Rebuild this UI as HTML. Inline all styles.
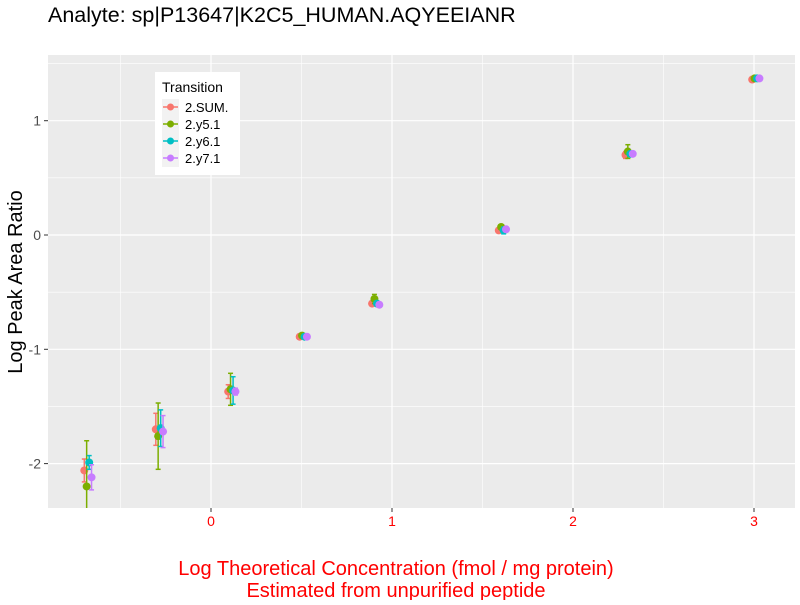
<!DOCTYPE html>
<html><head><meta charset="utf-8"><style>
body{margin:0;background:#fff;}
svg text{font-family:"Liberation Sans",sans-serif;}
</style></head><body>
<svg id="chart" width="800" height="600" xmlns="http://www.w3.org/2000/svg">
<defs><clipPath id="pc"><rect x="48" y="55" width="747" height="453"/></clipPath></defs>
<text x="48" y="22" font-size="21.5" fill="#000">Analyte: sp|P13647|K2C5_HUMAN.AQYEEIANR</text>
<rect x="48" y="55" width="747" height="453" fill="#ebebeb"/>
<g id="grid"></g>
<g id="marks" clip-path="url(#pc)"></g>
<g id="axes"></g>
<text transform="translate(22,282) rotate(-90)" text-anchor="middle" font-size="20" fill="#000">Log Peak Area Ratio</text>
<text x="396" y="575" text-anchor="middle" font-size="20" fill="#ff0000">Log Theoretical Concentration (fmol / mg protein)</text>
<text x="396" y="597" text-anchor="middle" font-size="20" fill="#ff0000">Estimated from unpurified peptide</text>
<g>
<rect x="155" y="72" width="85" height="103" fill="#fff"/>
<text x="162" y="92" font-size="14" fill="#000">Transition</text>
<g id="legend-entries"></g>
</g>
</svg>
<script>
const categories = [-0.68, -0.285, 0.115, 0.51, 0.91, 1.61, 2.31, 3.01];
const seriesNames = ["2.SUM.", "2.y5.1", "2.y6.1", "2.y7.1"];
const colors = ["#F8766D", "#7CAE00", "#00BFC4", "#C77CFF"];
const sumVals = [-2.06, -1.70, -1.37, -0.89, -0.60, 0.04, 0.70, 1.36];
const sumErr = [0.10, 0.14, 0.06, 0.02, 0.02, 0.02, 0.03, 0.01];
const y5Vals = [-2.20, -1.76, -1.35, -0.88, -0.56, 0.07, 0.73, 1.37];
const y5Err = [0.40, 0.29, 0.14, 0.02, 0.04, 0.02, 0.06, 0.01];
const y6Vals = [-1.99, -1.69, -1.36, -0.89, -0.60, 0.04, 0.71, 1.37];
const y6Err = [0.06, 0.16, 0.12, 0.02, 0.02, 0.03, 0.02, 0.01];
const y7Vals = [-2.12, -1.72, -1.37, -0.89, -0.61, 0.05, 0.71, 1.37];
const y7Err = [0.11, 0.14, 0.03, 0.02, 0.02, 0.02, 0.02, 0.01];
const xTicks = [0, 1, 2, 3];
const yTicks = [-2, -1, 0, 1];
const yTickLabels = ["-2", "-1", "0", "1"];
const dodge = [-0.02, -0.007, 0.007, 0.02];

const NS = "http://www.w3.org/2000/svg";
const X = v => 211 + v * 181;
const Y = v => 235 - v * 114.3;
function mk(tag, attrs, parent){const e=document.createElementNS(NS,tag);for(const k in attrs)e.setAttribute(k,attrs[k]);parent.appendChild(e);return e;}
const grid=document.getElementById('grid'), marks=document.getElementById('marks'), axes=document.getElementById('axes');
for (let v=-0.5; v<=3.5; v+=1){ if (X(v)>48 && X(v)<795){ const l=mk('line',{x1:X(v),x2:X(v),y1:55,y2:508,stroke:'#fff','stroke-width':0.6},grid);

}}
for (let v=-2.5; v<=1.5; v+=1){ if (Y(v)>55 && Y(v)<508){ const l=mk('line',{x1:48,x2:795,y1:Y(v),y2:Y(v),stroke:'#fff','stroke-width':0.6},grid);

}}
xTicks.forEach(v=>{const l=mk('line',{x1:X(v),x2:X(v),y1:55,y2:508,stroke:'#fff','stroke-width':1.2},grid);


const t=mk('line',{x1:X(v),x2:X(v),y1:508,y2:512,stroke:'#333','stroke-width':1},axes);


const tx=mk('text',{x:X(v),y:526,'text-anchor':'middle','font-size':14,fill:'#ff0000'},axes);tx.textContent=String(v);

});
yTicks.forEach((v,i)=>{const l=mk('line',{x1:48,x2:795,y1:Y(v),y2:Y(v),stroke:'#fff','stroke-width':1.2},grid);


const t=mk('line',{x1:44,x2:48,y1:Y(v),y2:Y(v),stroke:'#333','stroke-width':1},axes);


const tx=mk('text',{x:41,y:Y(v)+5,'text-anchor':'end','font-size':14,fill:'#4d4d4d'},axes);tx.textContent=yTickLabels[i];

});
const vals=[sumVals,y5Vals,y6Vals,y7Vals], errs=[sumErr,y5Err,y6Err,y7Err];
vals.forEach((arr,s)=>{arr.forEach((v,i)=>{const cx=X(categories[i]+dodge[s]);const e=errs[s][i];
const g=mk('g',{},marks);


mk('line',{x1:cx,x2:cx,y1:Y(v+e),y2:Y(v-e),stroke:colors[s],'stroke-width':1.5},g);
mk('line',{x1:cx-2.5,x2:cx+2.5,y1:Y(v+e),y2:Y(v+e),stroke:colors[s],'stroke-width':1.5},g);
mk('line',{x1:cx-2.5,x2:cx+2.5,y1:Y(v-e),y2:Y(v-e),stroke:colors[s],'stroke-width':1.5},g);
mk('circle',{cx:cx,cy:Y(v),r:4,fill:colors[s]},g);});});
const le=document.getElementById('legend-entries');
seriesNames.forEach((n,i)=>{const y=107+i*17;const g=mk('g',{},le);


mk('rect',{x:162,y:y-8,width:17,height:17,fill:'#f2f2f2'},g);
mk('line',{x1:163,x2:178,y1:y,y2:y,stroke:colors[i],'stroke-width':1.5},g);
mk('circle',{cx:170.5,cy:y,r:3.5,fill:colors[i]},g);
const t=mk('text',{x:185,y:y+5,'font-size':13,fill:'#000'},g);t.textContent=n;});
</script>
</body></html>
